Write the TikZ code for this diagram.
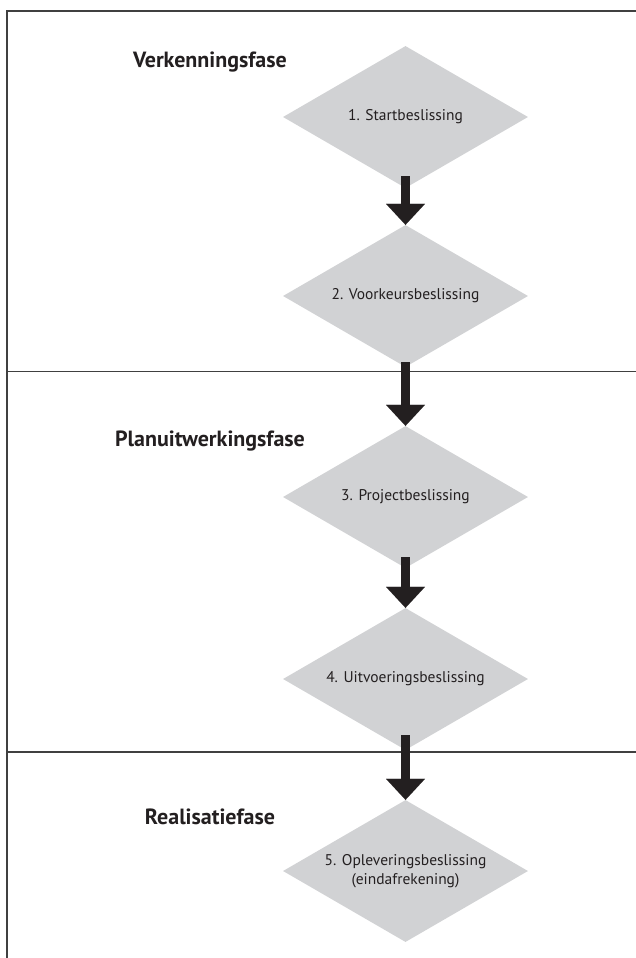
\documentclass[tikz,border=0pt]{standalone}
\usepackage{fontspec}
\setmainfont{PT Sans}
\usetikzlibrary{shapes.geometric,arrows.meta}
\definecolor{ink}{HTML}{231F20}
\definecolor{diafill}{HTML}{D1D2D4}
\definecolor{rule}{HTML}{404040}
\tikzset{
  decision/.style={diamond, aspect=1.725, fill=diafill, draw=none, inner sep=0pt,
    minimum width=245pt, minimum height=142pt, text=ink, align=center,
    font=\fontsize{15.5}{19}\selectfont},
  phase/.style={text=ink, font=\fontsize{22}{26}\selectfont\bfseries, inner sep=0pt},
  bigarrow/.style={draw=ink, line width=9pt,
    -{Triangle[width=39pt,length=21pt,line width=0.01pt]}},
  frameline/.style={draw=rule, line width=1.4pt}
}
\begin{document}
\begin{tikzpicture}[x=1pt,y=-1pt]
\useasboundingbox (0,0) rectangle (636,958);
\fill[white] (0,0) rectangle (636,958);
% frame
\coordinate (tl) at (7,11);
\coordinate (tr) at (636,11);
\coordinate (bl) at (7,958);
\coordinate (l1) at (7,371.5);
\coordinate (r1) at (636,371.5);
\coordinate (l2) at (7,752);
\coordinate (r2) at (636,752);
\draw[frameline] (bl) -- (tl) -- (tr);
\draw[frameline] (l1) -- (r1);
\draw[frameline] (l2) -- (r2);
% phases
\node[phase] (p1) at (210,62) {Verkenningsfase};
\node[phase] (p2) at (210,441) {Planuitwerkingsfase};
\node[phase] (p3) at (210,817) {Realisatiefase};
% decisions
\node[decision] (d1) at (405.5,117) {1. Startbeslissing};
\node[decision] (d2) at (405.5,296) {2. Voorkeursbeslissing};
\node[decision] (d3) at (405.5,497) {3. Projectbeslissing};
\node[decision] (d4) at (405.5,679) {4. Uitvoeringsbeslissing};
\node[decision] (d5) at (405.5,871) {5. Opleveringsbeslissing\\(eindafrekening)};
% arrows
\draw[bigarrow] ([yshift=12pt]d1.south) -- (d2.north);
\draw[bigarrow] ([yshift=5pt]d2.south) -- (d3.north);
\draw[bigarrow] ([yshift=11pt]d3.south) -- (d4.north);
\draw[bigarrow] ([yshift=15pt]d4.south) -- (d5.north);
\end{tikzpicture}
\end{document}
